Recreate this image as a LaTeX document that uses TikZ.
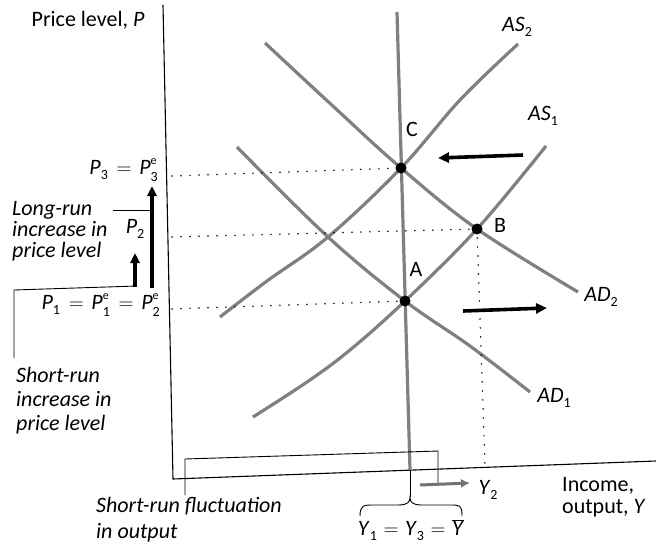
\documentclass[tikz,border=0pt]{standalone}
\usepackage{fontspec}
\setmainfont{Carlito}
\usetikzlibrary{arrows.meta}
\newcommand{\Pe}[1]{\textit{P}\rlap{\raisebox{0.95ex}{\fontsize{12}{12}\selectfont e}}\raisebox{-0.6ex}{\fontsize{14}{14}\selectfont #1}}
\newcommand{\Sb}[2]{\textit{#1}\raisebox{-0.45ex}{\fontsize{14}{14}\selectfont #2}}
\newcommand{\Eq}{\hspace{0.3em}$=$\hspace{0.3em}}
\newcommand{\EqW}{\hspace{0.4em}$=$\hspace{0.35em}}
\begin{document}
\begin{tikzpicture}[x=1pt,y=-1pt,
  curve/.style={draw=black!50,line width=3.2},
  axis/.style={draw=black,line width=1.1},
  thinl/.style={draw=black,line width=0.9},
  dots/.style={draw=black,line width=1.7,dash pattern=on 0pt off 9pt,line cap=round},
  bigarrow/.style={draw=black,line width=3.6,-{Triangle[length=11,width=10]}},
  grayarrow/.style={draw=black!55,line width=3,-{Latex[length=9,width=9]}},
  lab/.style={font=\fontsize{22}{22}\selectfont,inner sep=0pt},
  itlab/.style={font=\fontsize{22}{21}\selectfont\itshape,inner sep=0pt,align=left},
  ptdot/.style={circle,fill=black,inner sep=0pt,minimum size=11}]
\useasboundingbox (0,0) rectangle (656,557);

% axes
\coordinate (ytop) at (163,5);
\coordinate (O) at (173,479);
\coordinate (xend) at (656,461);
\draw[axis] (ytop) -- (O) -- (xend);

% equilibrium points
\coordinate (C) at (401,168);
\coordinate (B) at (477,229);
\coordinate (A) at (405,301);

% long-run vertical
\coordinate (lrtop) at (397,12);
\coordinate (lrbot) at (410,470);
\coordinate (brtip) at (410,497);
\draw[curve] (lrtop) -- (lrbot);
\draw[thinl] (lrbot) -- (brtip);

% curves
\draw[curve] plot[smooth,tension=0.6] coordinates {(237,147) (328,237) (405,301) (470,346) (530,392)}; % AD1
\draw[curve] plot[smooth,tension=0.6] coordinates {(265,43) (335,108) (401,168) (477,229) (578,292)}; % AD2
\draw[curve] plot[smooth,tension=0.6] coordinates {(253,417) (307,382) (350,350) (405,301) (477,229) (546,146)}; % AS1
\draw[curve] plot[smooth,tension=0.6] coordinates {(220,317) (267,281) (328,237) (401,168) (460,100) (518,44)}; % AS2

% dotted guides
\coordinate (p3l) at (172,176);
\coordinate (p2l) at (172,237);
\coordinate (p1l) at (172,309);
\coordinate (y2b) at (485,466);
\draw[dots] (p3l) -- (C);
\draw[dots] (p2l) -- (B);
\draw[dots] (p1l) -- (A);
\draw[dots] (B) -- (y2b);

\node[ptdot] (Cd) at (C) {};
\node[ptdot] (Bd) at (B) {};
\node[ptdot] (Ad) at (A) {};

% shift arrows
\coordinate (la1) at (523,155);
\coordinate (la2) at (438,158);
\draw[bigarrow] (la1) -- (la2);
\coordinate (ra1) at (463,311);
\coordinate (ra2) at (547,308);
\draw[bigarrow] (ra1) -- (ra2);

% price-level arrows on the left
\coordinate (lra1) at (152,288);
\coordinate (lra2) at (152,186);
\draw[draw=black,line width=3.2,-{Triangle[length=10,width=9]}] (lra1) -- (lra2);
\coordinate (sra1) at (135,287);
\coordinate (sra2) at (135,253);
\draw[draw=black,line width=3.2,-{Triangle[length=10,width=9]}] (sra1) -- (sra2);
\coordinate (lrc1) at (113,210);
\coordinate (lrc2) at (151,210);
\draw[thinl] (lrc1) -- (lrc2);
\coordinate (sb1) at (14,358);
\coordinate (sb2) at (14,290);
\coordinate (sb3) at (137,286);
\draw[thinl] (sb1) -- (sb2) -- (sb3);

% short-run output bracket
\coordinate (ob1) at (185,495);
\coordinate (ob2) at (185,459);
\coordinate (ob3) at (438,451);
\coordinate (ob4) at (438,483);
\draw[thinl] (ob1) -- (ob2) -- (ob3) -- (ob4);

% Y2 arrow
\coordinate (y2a) at (420,485);
\coordinate (y2c) at (470,483);
\draw[grayarrow] (y2a) -- (y2c);

% brace under Y1=Y3
\draw[thinl] (360,516) .. controls (360,505) and (364,505) .. (374,505) -- (398,505) .. controls (408,505) and (410,502) .. (brtip) .. controls (410,502) and (412,505) .. (422,505) -- (450,505) .. controls (460,505) and (462,505) .. (462,516);

% labels
\node[lab] (plab) at (88,20) {Price level, \textit{P}};
\node[lab] (as2) at (517,27) {\Sb{AS}{2}};
\node[lab] (as1) at (543,116) {\Sb{AS}{1}};
\node[lab] (ad2) at (601,297) {\Sb{AD}{2}};
\node[lab] (ad1) at (554,398) {\Sb{AD}{1}};
\node[lab] (Cl) at (412,129) {C};
\node[lab] (Bl) at (500,225) {B};
\node[lab] (Al) at (416,269) {A};
\node[lab,anchor=east] (p3) at (158,170) {\Sb{P}{3}\EqW\Pe{3}};
\node[lab] (p2) at (135,229) {\Sb{P}{2}};
\node[lab,anchor=east] (p1) at (160,305) {\Sb{P}{1}\EqW\Pe{1}\EqW\Pe{2}};
\node[itlab,anchor=north west] (lrt) at (12,201) {Long-run\\increase in\\price level};
\node[itlab,font=\fontsize{22}{24}\selectfont\itshape,anchor=north west] (srt) at (16,367) {Short-run\\increase in\\price level};
\node[itlab,font=\fontsize{22}{26}\selectfont\itshape,anchor=north west] (sft) at (96,497) {Short-run fluctuation\\in output};
\node[lab,align=left,anchor=north west] (inc) at (562,477) {Income,\\output, \textit{Y}};
\node[lab] (y2l) at (488,490) {\Sb{Y}{2}};
\node[lab] (ybar) at (411,530) {\Sb{Y}{1}\Eq\Sb{Y}{3}\Eq$\overline{\mbox{\textit{Y}}}$};
\end{tikzpicture}
\end{document}
